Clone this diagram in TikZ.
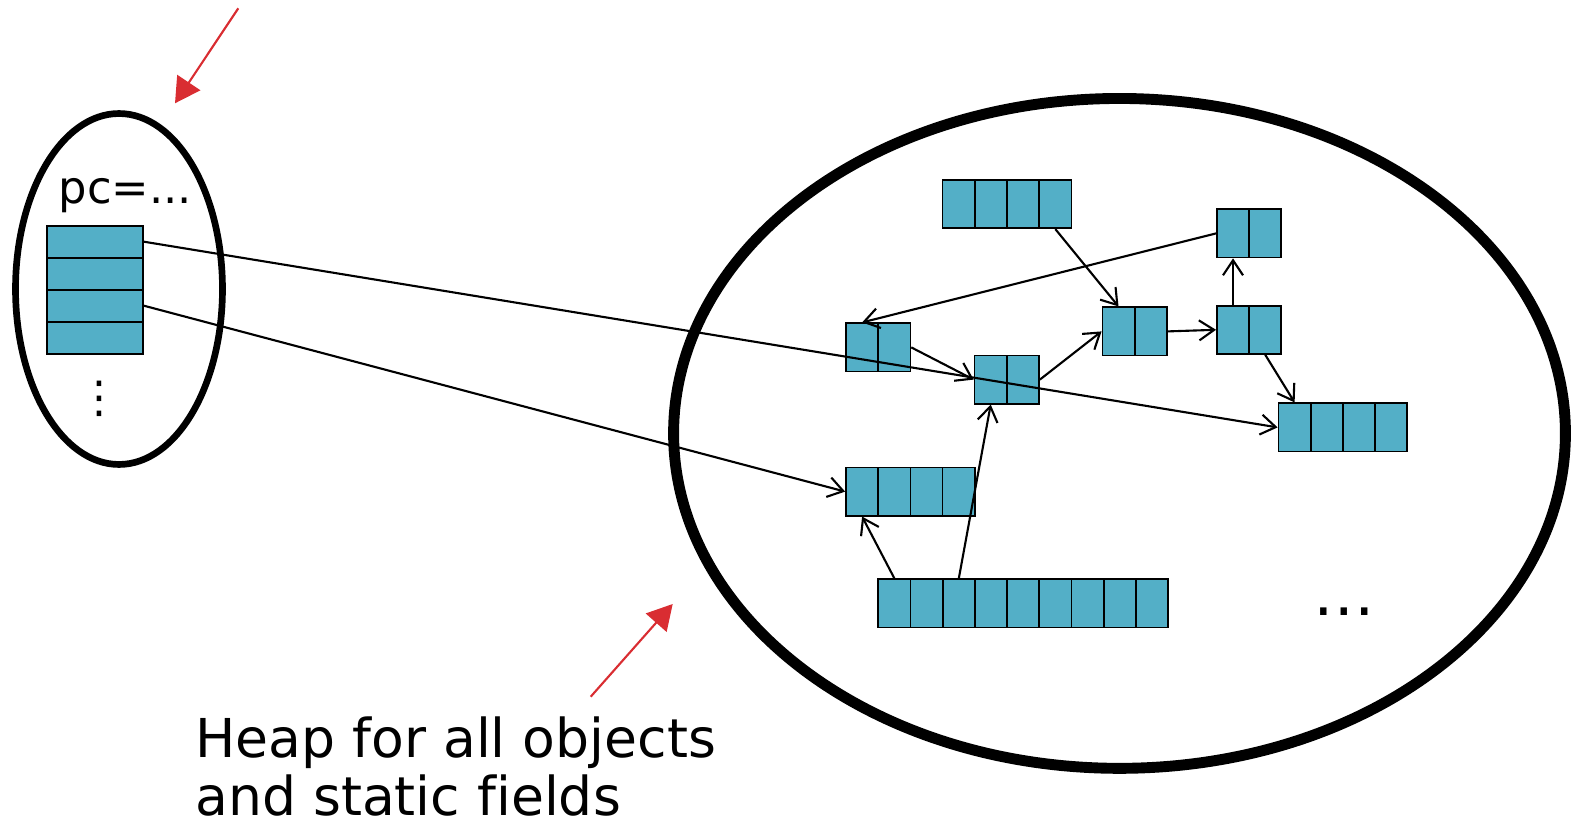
\documentclass[tikz,border=0pt]{standalone}
\usepackage{fontspec}
\setmainfont[Ligatures = NoCommon]{DejaVu Sans}
\usetikzlibrary{arrows.meta}
\definecolor{slotblue}{HTML}{53AFC7}
\definecolor{hintred}{HTML}{D92D32}
\tikzset{
  cell/.style = {draw = black, fill = slotblue, line width = 1pt, inner sep = 0pt, minimum width = 0.644cm, minimum height = 0.964cm},
  slot/.style = {draw = black, fill = slotblue, line width = 1pt, inner sep = 0pt, minimum width = 1.92cm, minimum height = 0.64cm},
  ref/.style = {draw = black, line width = 1.2pt, -{Straight Barb[length = 0.3cm, width = 0.4cm]}},
  hint/.style = {draw = hintred, line width = 1.2pt, -{Triangle[length = 0.5cm, width = 0.55cm]}}
}
% one heap object: name, left, top, number of fields
\newcommand\heapobj[4]{\foreach \n in {1,...,#4} \node[cell] (#1-\n) at (#2+\n*32.2-16.1,#3+24.1) {};}
\begin{document}
\begin{tikzpicture}[x = 0.02cm, y = -0.02cm]
\useasboundingbox (0,0) rectangle (1574,827);
\draw[line width = 3.8pt] (119,289) ellipse [x radius = 2.07cm, y radius = 3.51cm];
\draw[line width = 6.2pt] (1119.5,433.4) ellipse [x radius = 8.92cm, y radius = 6.7cm];
% stack frame
\node[anchor = base west, inner sep = 0pt, font = \fontsize{25.5}{30}\selectfont] (pc) at (58.5,204) {pc=...};
\foreach \n in {1,...,4} \node[slot] (slot\n) at (95,209.7+\n*32) {};
\node[anchor = base, inner sep = 0pt, font = \fontsize{25}{30}\selectfont] (more) at (99.3,412) {⋮};
% heap
\heapobj{objA}{942.6}{180}{4}
\heapobj{objB}{1216.9}{209.3}{2}
\heapobj{objC}{846}{323.3}{2}
\heapobj{objD}{974.6}{355.5}{2}
\heapobj{objE}{1102.4}{307.3}{2}
\heapobj{objF}{1216.9}{305.7}{2}
\heapobj{objG}{1278.5}{403.3}{4}
\heapobj{objH}{846}{467.5}{4}
\heapobj{objI}{878.3}{579.3}{9}
\node[anchor = base, inner sep = 0pt, font = \fontsize{35}{40}\selectfont] (rest) at (1344.7,615) {…};
% references
\draw[ref] (slot1.east) -- (objG-1.west);
\draw[ref] (slot3.east) -- (objH-1.west);
\draw[ref] (objA-4.south) -- (objE-1.north);
\draw[ref] (objB-1.west) -- (objC-1.north);
\draw[ref] (objC-2.east) -- (objD-1.west);
\draw[ref] (objD-2.east) -- (objE-1.west);
\draw[ref] (objE-2.east) -- (objF-1.west);
\draw[ref] (objF-1.north) -- (objB-1.south);
\draw[ref] (objF-2.south) -- (objG-1.north);
\draw[ref] (objI-3.north) -- (objD-1.south);
\draw[ref] (objI-1.north) -- (objH-1.south);
% red pointers
\coordinate (stackfrom) at (238.3,8.3);
\coordinate (stackto) at (175,103.3);
\draw[hint] (stackfrom) -- (stackto);
\coordinate (heapfrom) at (590.7,696.7);
\coordinate (heapto) at (672.7,604);
\draw[hint] (heapfrom) -- (heapto);
\node[anchor = north west, align = left, inner sep = 0pt, font = \fontsize{30.5}{33.5}\selectfont] (heaplabel) at (195,716) {Heap for all objects\\and static fields};
\end{tikzpicture}
\end{document}
